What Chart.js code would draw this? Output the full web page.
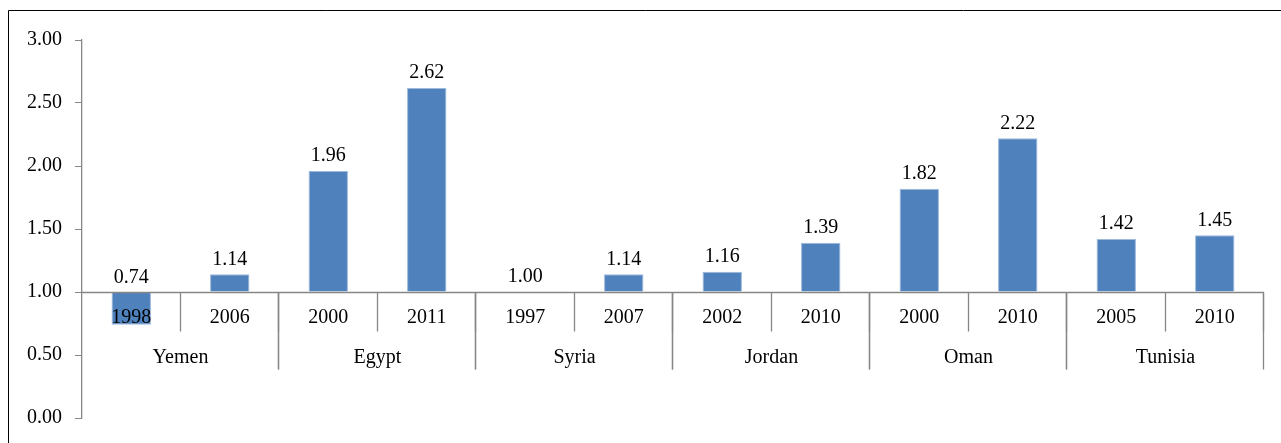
<!DOCTYPE html>
<html lang="en">
<head>
  <meta charset="UTF-8" />
  <title>Ratio by country and year</title>
  <script src="https://cdn.jsdelivr.net/npm/chart.js@4.4.4/dist/chart.umd.min.js"></script>
  <style>
    html, body { margin: 0; padding: 0; background: #fff; overflow: hidden; }
    .wrap { position: relative; width: 1281px; height: 443px; }
  </style>
</head>
<body>
  <div class="wrap"><canvas id="chart" width="1281" height="443"></canvas></div>

  <script>
    // data
    const countries = ['Yemen', 'Egypt', 'Syria', 'Jordan', 'Oman', 'Tunisia']
    const spans = [2, 2, 2, 2, 2, 2]
    const years = ['1998', '2006', '2000', '2011', '1997', '2007', '2002', '2010', '2000', '2010', '2005', '2010']
    const values = [0.74, 1.14, 1.96, 2.62, 1.00, 1.14, 1.16, 1.39, 1.82, 2.22, 1.42, 1.45]
    const yTicks = [0, 0.5, 1, 1.5, 2, 2.5, 3]
    const baseValue = 1

    const FONT = '20px "Liberation Serif", "Times New Roman", serif'
    const AXIS = '#868686'

    const categoryAxis = {
      id: 'categoryAxis',
      beforeDraw(chart) {
        const {ctx} = chart
        ctx.save()
        ctx.strokeStyle = '#000'
        ctx.lineWidth = 1
        ctx.beginPath()
        ctx.moveTo(8.5, 460)
        ctx.lineTo(8.5, 10.5)
        ctx.lineTo(1300, 10.5)
        ctx.stroke()
        ctx.restore()
      },
      afterDatasetsDraw(chart) {
        const {ctx, chartArea} = chart
        const x = chart.scales.x
        const y = chart.scales.y
        const y0 = Math.round(y.getPixelForValue(baseValue)) + 0.5
        const step = chartArea.width / years.length
        ctx.save()

        // value labels
        ctx.fillStyle = '#000'
        ctx.font = FONT
        ctx.textAlign = 'center'
        ctx.textBaseline = 'middle'
        chart.getDatasetMeta(0).data.forEach((bar, i) => {
          const top = Math.min(bar.y, bar.base)
          ctx.fillText(values[i].toFixed(2), bar.x, top - 15)
        })

        // base line
        ctx.strokeStyle = AXIS
        ctx.lineWidth = 1.3
        ctx.beginPath()
        ctx.moveTo(chartArea.left, y0)
        ctx.lineTo(chartArea.right, y0)
        ctx.stroke()

        // the y axis already draws the leftmost divider
        const divider = (p, len) => {
          if (Math.abs(p - chartArea.left) < 1) return
          const px = Math.round(p) - 0.5
          ctx.beginPath()
          ctx.moveTo(px, y0)
          ctx.lineTo(px, y0 + len)
          ctx.stroke()
        }

        // year labels and short separators
        years.forEach((yr, i) => {
          ctx.fillText(yr, x.getPixelForValue(i), y0 + 25)
        })
        for (let i = 0; i <= years.length; i++) divider(chartArea.left + i * step, 39)

        // country labels and long separators
        let start = 0
        countries.forEach((c, g) => {
          const end = start + spans[g]
          const left = chartArea.left + start * step
          const right = chartArea.left + end * step
          ctx.fillText(c, (left + right) / 2, y0 + 65)
          divider(left, 77)
          divider(right, 77)
          start = end
        })
        ctx.restore()
      },
    }

    new Chart(document.getElementById('chart'), {
      type: 'bar',
      data: {
        labels: years,
        datasets: [{
          data: values,
          base: baseValue,
          backgroundColor: '#4F81BD',
          borderColor: '#9DB9DC',
          borderWidth: 1,
          barPercentage: 0.4,
          categoryPercentage: 1,
        }],
      },
      options: {
        responsive: false,
        animation: false,
        layout: { padding: { left: 0, top: 40, right: 17, bottom: 24 } },
        plugins: { legend: { display: false }, tooltip: { enabled: false } },
        scales: {
          x: { display: false, offset: true },
          y: {
            min: yTicks[0],
            max: yTicks[yTicks.length - 1],
            afterBuildTicks: (scale) => { scale.ticks = yTicks.map((v) => ({value: v})) },
            afterFit: (scale) => { scale.width = 82 },
            border: { display: true, color: AXIS, width: 1.3 },
            grid: { drawOnChartArea: false, drawTicks: true, tickLength: 7, color: AXIS },
            ticks: {
              color: '#000',
              padding: 13,
              font: { family: '"Liberation Serif", "Times New Roman", serif', size: 20 },
              callback: (v) => Number(v).toFixed(2),
            },
          },
        },
      },
      plugins: [categoryAxis],
    })
  </script>
</body>
</html>
